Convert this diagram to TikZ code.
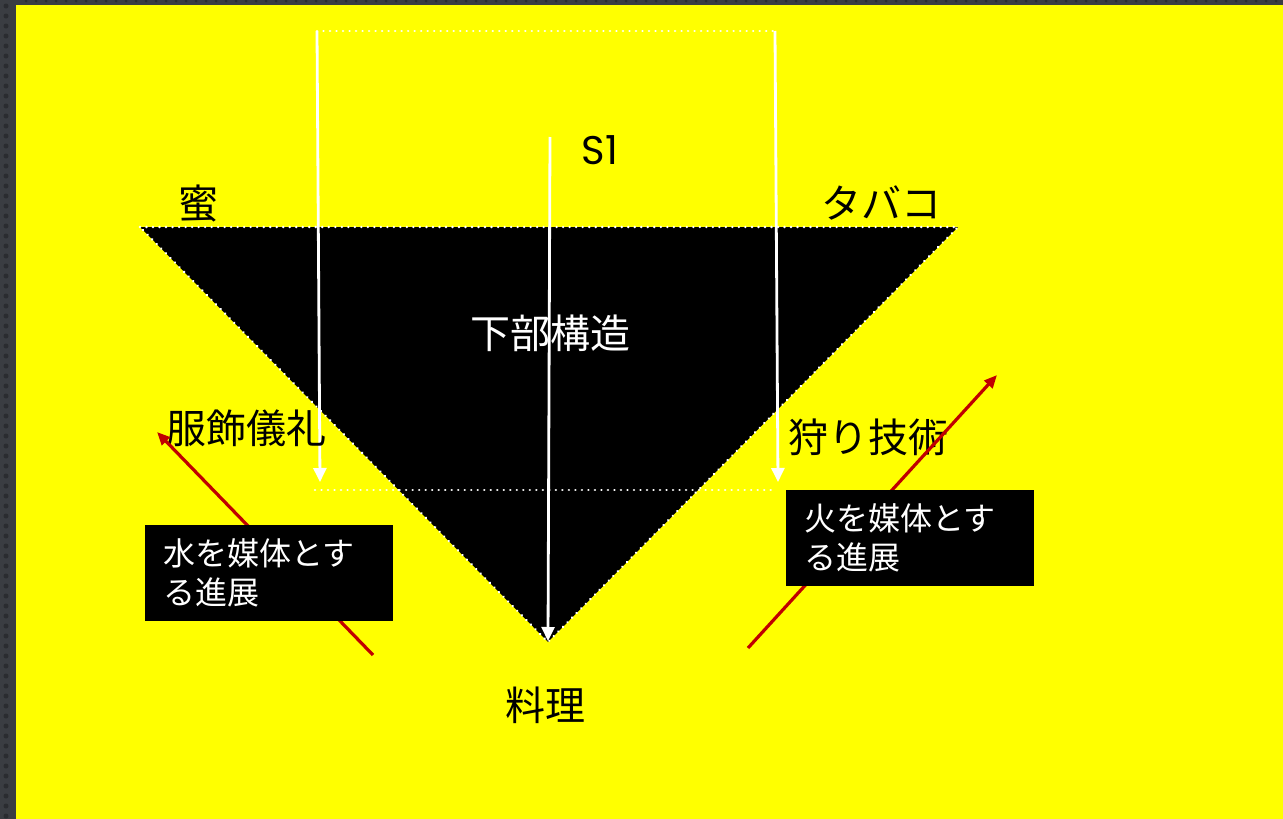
\documentclass[tikz,border=0pt]{standalone}
\usepackage{fontspec}
\setmainfont{Noto Sans CJK JP}
\newfontfamily\latinfont{Poppins}
\usetikzlibrary{arrows.meta}
\definecolor{framegray}{HTML}{3A3D42}
\definecolor{framedot}{HTML}{2A2C30}
\definecolor{bgyellow}{HTML}{FFFF00}
\definecolor{arrowred}{HTML}{C00000}
\tikzset{
  wdot/.style={white, line width=2.6pt, line cap=round, dash pattern=on 0.01pt off 6.5pt},
  warrow/.style={white, line width=2.8pt, -{Triangle[width=13pt,length=14pt]}},
  rarrow/.style={arrowred, line width=3.2pt, -{Triangle[width=11pt,length=13pt]}},
  lbl/.style={font=\fontsize{40}{46}\selectfont, inner sep=0pt, text=black},
  boxtext/.style={font=\fontsize{32}{39}\selectfont, fill=black, text=white, align=left,
    minimum width=248pt, minimum height=96pt, inner xsep=18pt, text width=212pt}
}
\begin{document}
\begin{tikzpicture}[x=1pt,y=-1pt]
\useasboundingbox (0,0) rectangle (1283,819);
\fill[framegray] (0,0) rectangle (1283,819);
\foreach \yy in {6,16,...,819} {\fill[framedot] (6,\yy) circle (2.5pt);}
\foreach \xx in {26,36,...,1283} {\fill[framedot] (\xx,1) circle (1.5pt);}
\fill[bgyellow] (16,5) rectangle (1283,819);

% triangle
\coordinate (tl) at (140,227);
\coordinate (tr) at (958,227);
\coordinate (ap) at (548,642);
\fill[black] (tl) -- (tr) -- (ap) -- cycle;
\draw[wdot] (tl) -- (tr) -- (ap) -- cycle;

% bracket
\coordinate (a1) at (317,31);
\coordinate (a2) at (775,31);
\coordinate (b1) at (320,482);
\coordinate (b2) at (778,482);
\coordinate (c1) at (315,490);
\coordinate (c2) at (775,490);
\draw[wdot] (a1) -- (a2);
\draw[wdot] (c1) -- (c2);
\draw[warrow] (a1) -- (b1);
\draw[warrow] (a2) -- (b2);

% central arrow
\coordinate (s0) at (550,137);
\coordinate (s1) at (548,641);
\draw[warrow] (s0) -- (s1);

% labels
\node[lbl] (mitsu) at (198,203) {蜜};
\node[lbl] (tabako) at (881,203) {タバコ};
\node[lbl, text=white] (kabu) at (550,333) {下部構造};
\node[lbl] (fuku) at (246,428) {服飾儀礼};
\node[lbl] (kari) at (868,437) {狩り技術};
\node[lbl] (ryori) at (545,705) {料理};
\node[inner sep=0pt, font=\latinfont\fontsize{40}{46}\selectfont] (S1) at (600,150) {S1};

% red arrows
\coordinate (r1s) at (373,655);
\coordinate (r1e) at (157,432);
\coordinate (r2s) at (748,648);
\coordinate (r2e) at (997,375);
\draw[rarrow] (r1s) -- (r1e);
\draw[rarrow] (r2s) -- (r2e);

% boxes
\node[boxtext] (water) at (269,573) {水を媒体とす\\る進展};
\node[boxtext] (fire) at (910,538) {火を媒体とす\\る進展};
\end{tikzpicture}
\end{document}
